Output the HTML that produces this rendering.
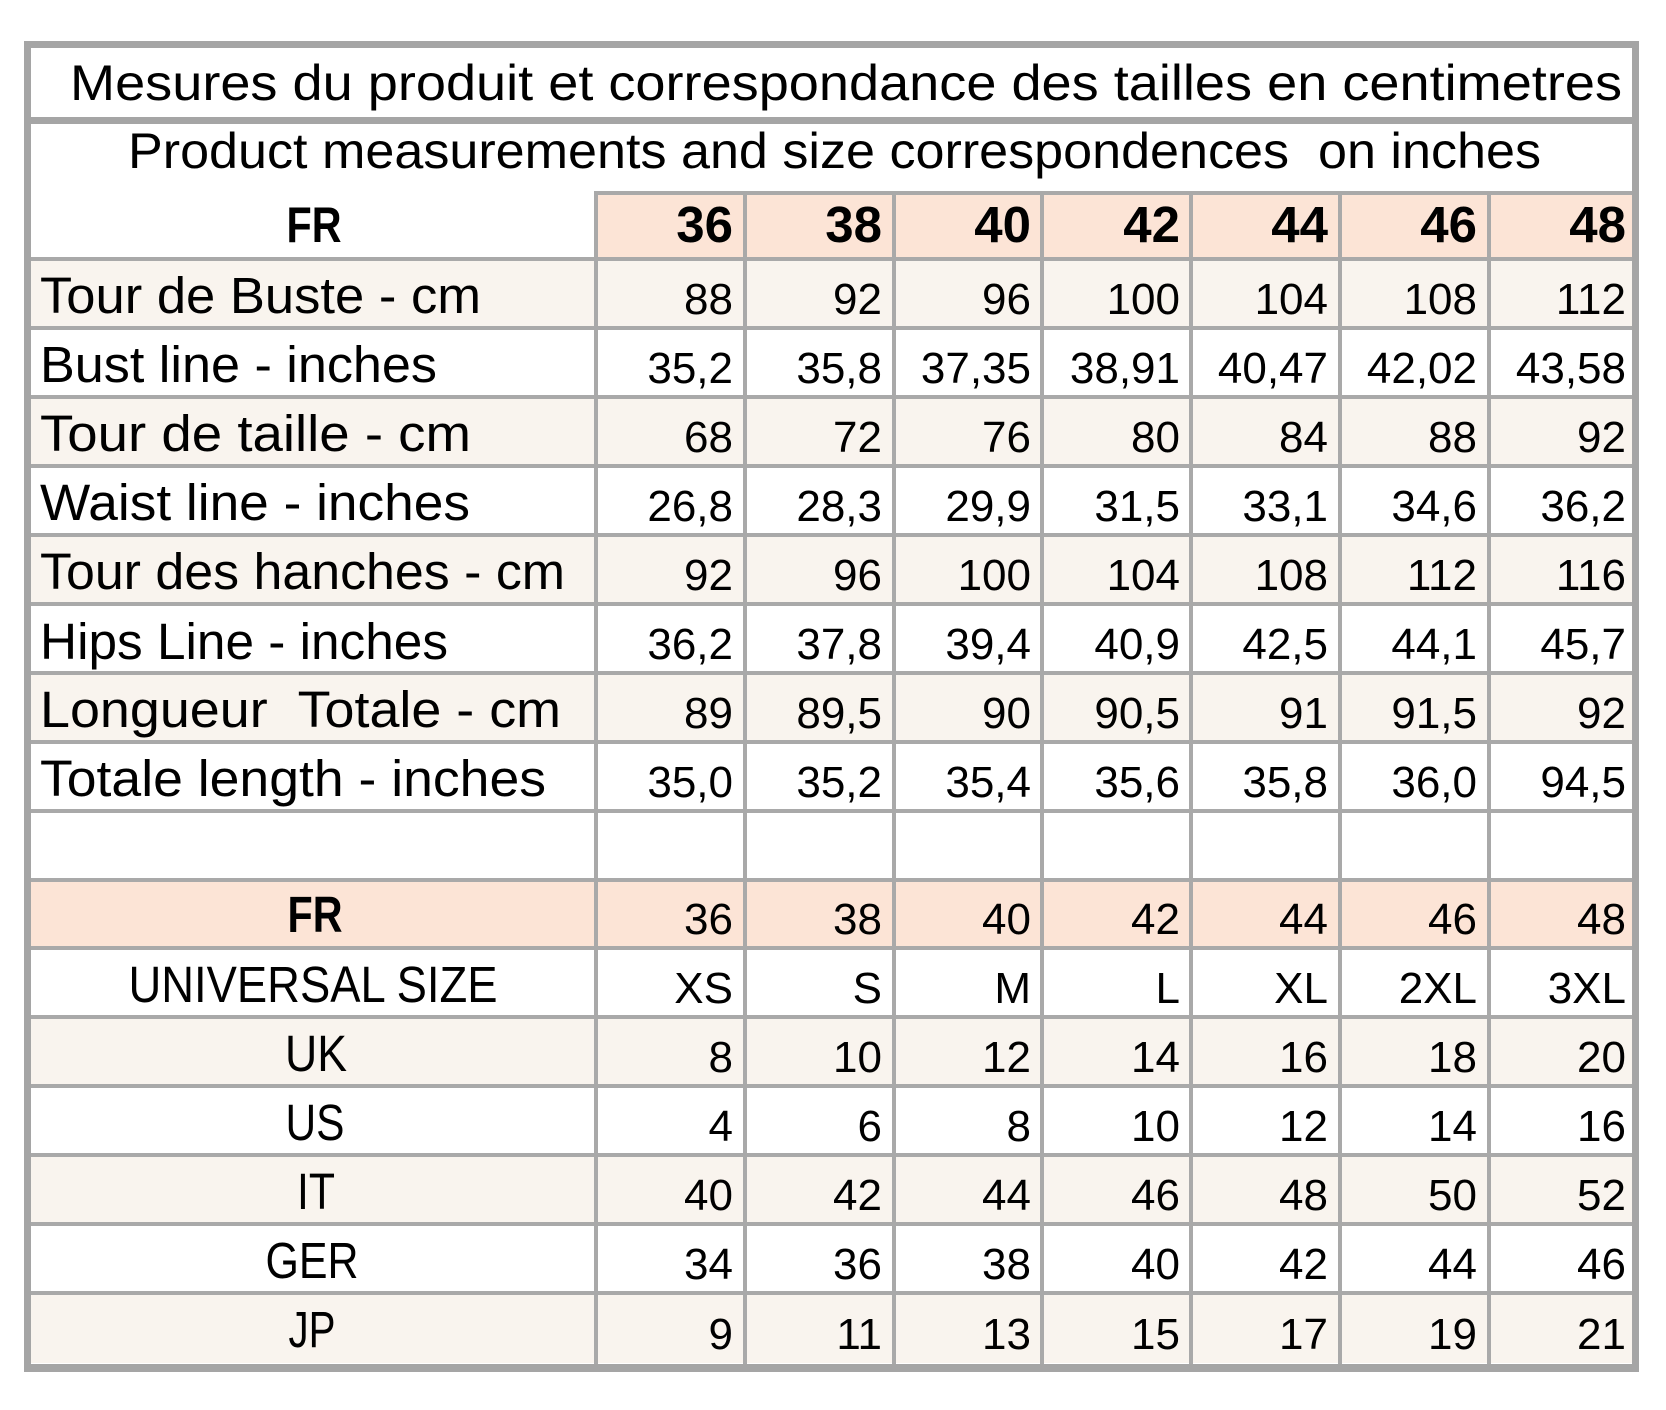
<!DOCTYPE html>
<html>
<head>
<meta charset="utf-8">
<style>
  html,body{margin:0;padding:0;background:#fff;}
  body{width:1666px;height:1410px;overflow:hidden;}
  svg{display:block;}
  .t{font-family:"Liberation Sans",sans-serif;fill:#000;}
  .num{font-family:"Liberation Sans",sans-serif;font-size:44px;fill:#000;text-anchor:end;}
  .hnum{font-family:"Liberation Sans",sans-serif;font-size:51px;font-weight:bold;fill:#000;text-anchor:end;}
  .lab{font-family:"Liberation Sans",sans-serif;font-size:51px;fill:#000;}
  .llab{font-family:"Liberation Sans",sans-serif;font-size:51px;fill:#000;text-anchor:middle;}
</style>
</head>
<body>
<svg width="1666" height="1410" viewBox="0 0 1666 1410" xmlns="http://www.w3.org/2000/svg">
  <rect x="0" y="0" width="1666" height="1410" fill="#ffffff"/>

  <!-- header pink (data cols) -->
  <rect x="594" y="191" width="1042" height="68" fill="#fce4d6"/>

  <!-- row backgrounds -->
  <rect x="31" y="259" width="1601" height="69" fill="#f9f4ee"/>
  <rect x="31" y="397" width="1601" height="69" fill="#f9f4ee"/>
  <rect x="31" y="535" width="1601" height="69" fill="#f9f4ee"/>
  <rect x="31" y="673" width="1601" height="69" fill="#f9f4ee"/>
  <rect x="31" y="880" width="1601" height="68" fill="#fce4d6"/>
  <rect x="31" y="1017" width="1601" height="69" fill="#f9f4ee"/>
  <rect x="31" y="1155" width="1601" height="69" fill="#f9f4ee"/>
  <rect x="31" y="1293" width="1601" height="70" fill="#f9f4ee"/>

  <!-- horizontal grid lines -->
  <g fill="#a9a9a9">
    <rect x="594" y="191" width="1042" height="4"/>
    <rect x="31" y="257" width="1601" height="4"/>
    <rect x="31" y="326" width="1601" height="4"/>
    <rect x="31" y="395" width="1601" height="4"/>
    <rect x="31" y="464" width="1601" height="4"/>
    <rect x="31" y="533" width="1601" height="4"/>
    <rect x="31" y="602" width="1601" height="4"/>
    <rect x="31" y="671" width="1601" height="4"/>
    <rect x="31" y="740" width="1601" height="4"/>
    <rect x="31" y="809" width="1601" height="4"/>
    <rect x="31" y="878" width="1601" height="4"/>
    <rect x="31" y="946" width="1601" height="4"/>
    <rect x="31" y="1015" width="1601" height="4"/>
    <rect x="31" y="1084" width="1601" height="4"/>
    <rect x="31" y="1153" width="1601" height="4"/>
    <rect x="31" y="1222" width="1601" height="4"/>
    <rect x="31" y="1291" width="1601" height="4"/>
  </g>

  <!-- vertical grid lines -->
  <g fill="#a9a9a9">
    <rect x="594" y="191" width="4" height="1174"/>
    <rect x="743" y="191" width="4" height="1174"/>
    <rect x="892" y="191" width="4" height="1174"/>
    <rect x="1040" y="191" width="4" height="1174"/>
    <rect x="1189" y="191" width="4" height="1174"/>
    <rect x="1338" y="191" width="4" height="1174"/>
    <rect x="1487" y="191" width="4" height="1174"/>
  </g>

  <!-- outer border & title separator -->
  <g fill="#a5a5a5">
    <rect x="24" y="41" width="1615" height="7"/>
    <rect x="24" y="41" width="7" height="1331"/>
    <rect x="1632" y="41" width="7" height="1331"/>
    <rect x="24" y="1364" width="1615" height="8"/>
    <rect x="31" y="117" width="1601" height="7"/>
  </g>

  <!-- titles -->
  <text class="t" x="70" y="100" font-size="50" textLength="1552" lengthAdjust="spacingAndGlyphs">Mesures du produit et correspondance des tailles en centimetres</text>
  <text class="t" x="128" y="168" font-size="50" textLength="1413" lengthAdjust="spacingAndGlyphs">Product measurements and size correspondences &#160;on inches</text>

  <!-- header row -->
  <text class="t" x="314" y="242" font-size="50" font-weight="bold" text-anchor="middle" textLength="55" lengthAdjust="spacingAndGlyphs">FR</text>
  <g class="hnum">
    <text x="733" y="242">36</text><text x="882" y="242">38</text><text x="1031" y="242">40</text><text x="1180" y="242">42</text><text x="1328" y="242">44</text><text x="1477" y="242">46</text><text x="1626" y="242">48</text>
  </g>

  <!-- upper labels -->
  <text class="lab" x="40" y="313" textLength="441" lengthAdjust="spacingAndGlyphs">Tour de Buste - cm</text>
  <text class="lab" x="40" y="382" textLength="397" lengthAdjust="spacingAndGlyphs">Bust line - inches</text>
  <text class="lab" x="40" y="451" textLength="431" lengthAdjust="spacingAndGlyphs">Tour de taille - cm</text>
  <text class="lab" x="40" y="520" textLength="430" lengthAdjust="spacingAndGlyphs">Waist line - inches</text>
  <text class="lab" x="40" y="589" textLength="525" lengthAdjust="spacingAndGlyphs">Tour des hanches - cm</text>
  <text class="lab" x="40" y="659" textLength="408" lengthAdjust="spacingAndGlyphs">Hips Line - inches</text>
  <text class="lab" x="40" y="727" textLength="521" lengthAdjust="spacingAndGlyphs">Longueur &#160;Totale - cm</text>
  <text class="lab" x="40" y="796" textLength="506" lengthAdjust="spacingAndGlyphs">Totale length - inches</text>

  <!-- upper numbers -->
  <g class="num">
    <text x="733" y="314">88</text><text x="882" y="314">92</text><text x="1031" y="314">96</text><text x="1180" y="314">100</text><text x="1328" y="314">104</text><text x="1477" y="314">108</text><text x="1626" y="314">112</text>

    <text x="733" y="383">35,2</text><text x="882" y="383">35,8</text><text x="1031" y="383">37,35</text><text x="1180" y="383">38,91</text><text x="1328" y="383">40,47</text><text x="1477" y="383">42,02</text><text x="1626" y="383">43,58</text>

    <text x="733" y="452">68</text><text x="882" y="452">72</text><text x="1031" y="452">76</text><text x="1180" y="452">80</text><text x="1328" y="452">84</text><text x="1477" y="452">88</text><text x="1626" y="452">92</text>

    <text x="733" y="521">26,8</text><text x="882" y="521">28,3</text><text x="1031" y="521">29,9</text><text x="1180" y="521">31,5</text><text x="1328" y="521">33,1</text><text x="1477" y="521">34,6</text><text x="1626" y="521">36,2</text>

    <text x="733" y="590">92</text><text x="882" y="590">96</text><text x="1031" y="590">100</text><text x="1180" y="590">104</text><text x="1328" y="590">108</text><text x="1477" y="590">112</text><text x="1626" y="590">116</text>

    <text x="733" y="659">36,2</text><text x="882" y="659">37,8</text><text x="1031" y="659">39,4</text><text x="1180" y="659">40,9</text><text x="1328" y="659">42,5</text><text x="1477" y="659">44,1</text><text x="1626" y="659">45,7</text>

    <text x="733" y="728">89</text><text x="882" y="728">89,5</text><text x="1031" y="728">90</text><text x="1180" y="728">90,5</text><text x="1328" y="728">91</text><text x="1477" y="728">91,5</text><text x="1626" y="728">92</text>

    <text x="733" y="797">35,0</text><text x="882" y="797">35,2</text><text x="1031" y="797">35,4</text><text x="1180" y="797">35,6</text><text x="1328" y="797">35,8</text><text x="1477" y="797">36,0</text><text x="1626" y="797">94,5</text>
  </g>

  <!-- lower labels -->
  <text class="llab" x="315" y="932" font-weight="bold" font-size="50" textLength="55" lengthAdjust="spacingAndGlyphs">FR</text>
  <text class="llab" x="313" y="1002" textLength="369" lengthAdjust="spacingAndGlyphs">UNIVERSAL SIZE</text>
  <text class="llab" x="316" y="1071" textLength="62" lengthAdjust="spacingAndGlyphs">UK</text>
  <text class="llab" x="315" y="1140" textLength="59" lengthAdjust="spacingAndGlyphs">US</text>
  <text class="llab" x="316" y="1209" textLength="38" lengthAdjust="spacingAndGlyphs">IT</text>
  <text class="llab" x="312" y="1278" textLength="93" lengthAdjust="spacingAndGlyphs">GER</text>
  <text class="llab" x="312" y="1347" textLength="47" lengthAdjust="spacingAndGlyphs">JP</text>

  <!-- lower numbers -->
  <g class="num">
    <text x="733" y="934">36</text><text x="882" y="934">38</text><text x="1031" y="934">40</text><text x="1180" y="934">42</text><text x="1328" y="934">44</text><text x="1477" y="934">46</text><text x="1626" y="934">48</text>

    <text x="733" y="1003">XS</text><text x="882" y="1003">S</text><text x="1031" y="1003">M</text><text x="1180" y="1003">L</text><text x="1328" y="1003">XL</text><text x="1477" y="1003">2XL</text><text x="1626" y="1003">3XL</text>

    <text x="733" y="1072">8</text><text x="882" y="1072">10</text><text x="1031" y="1072">12</text><text x="1180" y="1072">14</text><text x="1328" y="1072">16</text><text x="1477" y="1072">18</text><text x="1626" y="1072">20</text>

    <text x="733" y="1141">4</text><text x="882" y="1141">6</text><text x="1031" y="1141">8</text><text x="1180" y="1141">10</text><text x="1328" y="1141">12</text><text x="1477" y="1141">14</text><text x="1626" y="1141">16</text>

    <text x="733" y="1210">40</text><text x="882" y="1210">42</text><text x="1031" y="1210">44</text><text x="1180" y="1210">46</text><text x="1328" y="1210">48</text><text x="1477" y="1210">50</text><text x="1626" y="1210">52</text>

    <text x="733" y="1279">34</text><text x="882" y="1279">36</text><text x="1031" y="1279">38</text><text x="1180" y="1279">40</text><text x="1328" y="1279">42</text><text x="1477" y="1279">44</text><text x="1626" y="1279">46</text>

    <text x="733" y="1349">9</text><text x="882" y="1349">11</text><text x="1031" y="1349">13</text><text x="1180" y="1349">15</text><text x="1328" y="1349">17</text><text x="1477" y="1349">19</text><text x="1626" y="1349">21</text>
  </g>
</svg>
</body>
</html>
